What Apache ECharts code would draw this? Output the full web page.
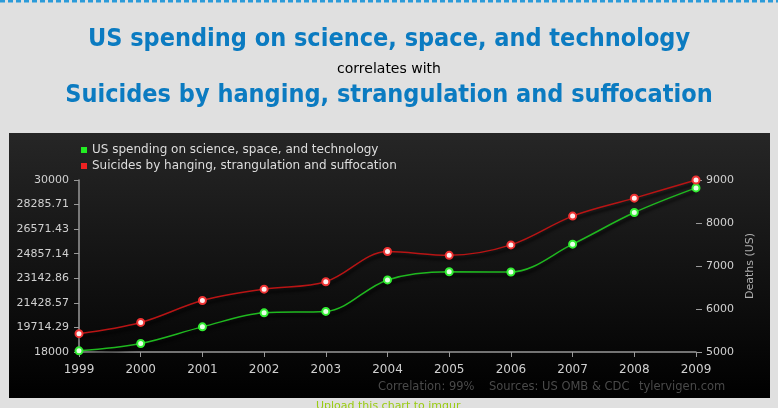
<!DOCTYPE html>
<html>
<head>
<meta charset="utf-8">
<script src="https://cdn.jsdelivr.net/npm/echarts@6/dist/echarts.min.js"></script>
<style>
  html, body { margin: 0; padding: 0; background: #e0e0e0; }
  #chart { width: 778px; height: 408px; }
</style>
</head>
<body>
<div id="chart"></div>
<script>
// data
const years = ['1999', '2000', '2001', '2002', '2003', '2004', '2005', '2006', '2007', '2008', '2009']
const spending = [18079, 18594, 19753, 20734, 20831, 23029, 23597, 23584, 25525, 27731, 29449]
const suicides = [5427, 5688, 6198, 6462, 6635, 7336, 7248, 7491, 8161, 8578, 9000]
const leftTickLabels = ['18000', '19714.29', '21428.57', '23142.86', '24857.14', '26571.43', '28285.71', '30000']
const rightTickLabels = ['5000', '6000', '7000', '8000', '9000']

const spendName = 'US spending on science, space, and technology'
const suicideName = 'Suicides by hanging, strangulation and suffocation'

const leftMin = 18000
const leftStep = 12000 / 7

const chart = echarts.init(document.getElementById('chart'))

const lineShadow = {
  shadowColor: 'rgba(0,0,0,0.95)',
  shadowBlur: 3,
  shadowOffsetY: 4
}

chart.setOption({
  backgroundColor: '#e0e0e0',
  animation: false,
  textStyle: { fontFamily: 'DejaVu Sans' },
  title: [
    {
      text: spendName,
      left: 'center',
      top: 22,
      textStyle: { color: '#0b7bc1', fontSize: 25, fontWeight: 'bold', fontFamily: 'DejaVu Sans Condensed' }
    },
    {
      text: 'correlates with',
      left: 'center',
      top: 57,
      textStyle: { color: '#000', fontSize: 14, fontWeight: 'normal', fontFamily: 'DejaVu Sans' }
    },
    {
      text: suicideName,
      left: 'center',
      top: 78,
      textStyle: { color: '#0b7bc1', fontSize: 25, fontWeight: 'bold', fontFamily: 'DejaVu Sans Condensed' }
    }
  ],
  graphic: [
    {
      type: 'line',
      z: -1,
      shape: { x1: 0, y1: 1, x2: 778, y2: 1 },
      style: { stroke: '#2b9bd9', lineWidth: 3, lineDash: [5, 3] }
    },
    {
      type: 'rect',
      z: -10,
      shape: { x: 9, y: 133, width: 761, height: 265 },
      style: {
        fill: new echarts.graphic.LinearGradient(0, 0, 0, 1, [
          { offset: 0, color: '#262626' },
          { offset: 1, color: '#000000' }
        ])
      }
    },
    { type: 'text', x: 378, y: 387, style: { text: 'Correlation: 99%', fill: '#4a4a4a', font: '11.5px DejaVu Sans', textVerticalAlign: 'middle' } },
    { type: 'text', x: 489, y: 387, style: { text: 'Sources: US OMB & CDC', fill: '#4a4a4a', font: '11.5px DejaVu Sans', textVerticalAlign: 'middle' } },
    { type: 'text', x: 639, y: 387, style: { text: 'tylervigen.com', fill: '#4a4a4a', font: '11.5px DejaVu Sans', textVerticalAlign: 'middle' } },
    { type: 'text', x: 316, y: 401, style: { text: 'Upload this chart to imgur', fill: '#99cc11', font: '11px DejaVu Sans' } }
  ],
  legend: {
    orient: 'vertical',
    left: 76,
    top: 139,
    itemGap: 4,
    itemWidth: 6,
    itemHeight: 6,
    icon: 'rect',
    textStyle: { color: '#dddddd', fontSize: 12 },
    data: [
      { name: spendName, itemStyle: { color: '#22ee22', borderWidth: 0 } },
      { name: suicideName, itemStyle: { color: '#ee2222', borderWidth: 0 } }
    ]
  },
  grid: { left: 79, right: 82, top: 180, bottom: 56 },
  xAxis: {
    type: 'category',
    data: years,
    boundaryGap: false,
    axisLine: { lineStyle: { color: '#999', width: 1.5 } },
    axisTick: { length: 5, lineStyle: { color: '#999' } },
    axisLabel: { color: '#d0d0d0', fontSize: 12, margin: 12 },
    splitLine: { show: false }
  },
  yAxis: [
    {
      type: 'value',
      min: leftMin,
      max: 30000,
      interval: leftStep,
      axisLine: { show: true, lineStyle: { color: '#999', width: 1.5 } },
      axisTick: { show: true, length: 5, lineStyle: { color: '#999' } },
      axisLabel: {
        color: '#d0d0d0',
        fontSize: 11,
        margin: 10,
        formatter: v => leftTickLabels[Math.round((v - leftMin) / leftStep)]
      },
      splitLine: { show: false }
    },
    {
      type: 'value',
      min: 5000,
      max: 9000,
      interval: 1000,
      position: 'right',
      name: 'Deaths (US)',
      nameLocation: 'middle',
      nameRotate: 90,
      nameGap: 40,
      nameTextStyle: { color: '#b0b0b0', fontSize: 11 },
      axisLine: { show: false },
      axisTick: { show: true, length: 6, lineStyle: { color: '#999' } },
      axisLabel: {
        color: '#d0d0d0',
        fontSize: 11,
        margin: 10,
        formatter: v => rightTickLabels[Math.round((v - 5000) / 1000)]
      },
      splitLine: { show: false }
    }
  ],
  series: [
    {
      name: spendName,
      type: 'line',
      yAxisIndex: 0,
      data: spending,
      smooth: 0.35,
      symbol: 'circle',
      symbolSize: 7,
      lineStyle: Object.assign({ color: '#1fb81f', width: 1.5 }, lineShadow),
      itemStyle: { color: '#e8ffe8', borderColor: '#33ee33', borderWidth: 2 },
      z: 3
    },
    {
      name: suicideName,
      type: 'line',
      yAxisIndex: 1,
      data: suicides,
      smooth: 0.35,
      symbol: 'circle',
      symbolSize: 7,
      lineStyle: Object.assign({ color: '#b81414', width: 1.5 }, lineShadow),
      itemStyle: { color: '#fff0f0', borderColor: '#ee3333', borderWidth: 2 },
      z: 3
    }
  ]
})
</script>
</body>
</html>
